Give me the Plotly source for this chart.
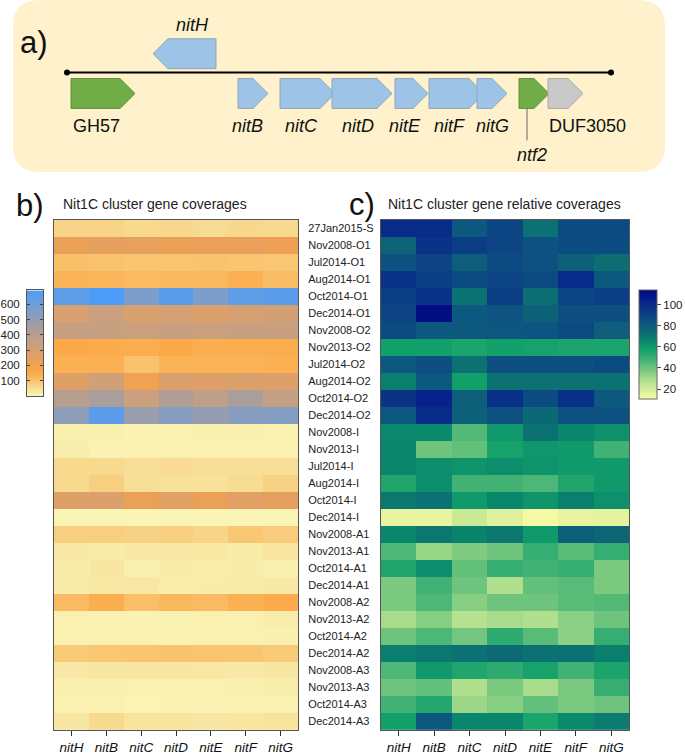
import numpy as np
import plotly.graph_objects as go

W, H = 685, 755
FONT = "Arial, Liberation Sans, Helvetica, sans-serif"

# ---------------- gene cluster (panel a) ----------------
genes = ["GH57", "nitH", "nitB", "nitC", "nitD", "nitE", "nitF", "nitG", "ntf2", "DUF3050"]
gene_start = [71, 153, 238, 280, 332, 395, 429, 477, 519, 548]
gene_end = [135, 216, 268, 335, 392, 428, 484, 507, 549, 583]
gene_strand = [1, -1, 1, 1, 1, 1, 1, 1, 1, 1]
gene_kind = ["green", "blue", "blue", "blue", "blue", "blue", "blue", "blue", "green", "grey"]
locus = [67, 611]

# ---------------- heatmaps (panels b, c) ----------------
genes_hm = ["nitH", "nitB", "nitC", "nitD", "nitE", "nitF", "nitG"]
samples = [
    "27Jan2015-S", "Nov2008-O1", "Jul2014-O1", "Aug2014-O1", "Oct2014-O1", "Dec2014-O1",
    "Nov2008-O2", "Nov2013-O2", "Jul2014-O2", "Aug2014-O2", "Oct2014-O2", "Dec2014-O2",
    "Nov2008-I", "Nov2013-I", "Jul2014-I", "Aug2014-I", "Oct2014-I", "Dec2014-I",
    "Nov2008-A1", "Nov2013-A1", "Oct2014-A1", "Dec2014-A1",
    "Nov2008-A2", "Nov2013-A2", "Oct2014-A2", "Dec2014-A2",
    "Nov2008-A3", "Nov2013-A3", "Oct2014-A3", "Dec2014-A3",
]
coverage = [
    [65, 65, 55, 58, 52, 58, 55],
    [230, 250, 240, 230, 235, 235, 225],
    [105, 100, 95, 95, 100, 95, 90],
    [130, 125, 115, 120, 120, 135, 110],
    [640, 690, 560, 650, 560, 640, 650],
    [290, 340, 290, 300, 280, 300, 310],
    [350, 350, 340, 345, 340, 345, 345],
    [150, 145, 140, 150, 140, 140, 140],
    [135, 135, 100, 130, 130, 130, 135],
    [270, 320, 210, 280, 275, 280, 275],
    [400, 440, 340, 420, 380, 440, 360],
    [510, 650, 480, 530, 490, 530, 540],
    [15, 15, 10, 12, 14, 14, 12],
    [18, 10, 12, 12, 12, 12, 12],
    [55, 55, 45, 50, 45, 45, 45],
    [55, 75, 45, 40, 40, 50, 70],
    [270, 280, 230, 260, 230, 260, 250],
    [5, 5, 5, 5, 5, 5, 5],
    [75, 75, 70, 75, 65, 90, 80],
    [25, 20, 25, 25, 28, 22, 32],
    [22, 30, 15, 20, 18, 22, 14],
    [22, 28, 28, 18, 22, 22, 25],
    [115, 140, 105, 120, 115, 135, 145],
    [12, 12, 10, 10, 12, 12, 18],
    [12, 12, 10, 10, 12, 12, 15],
    [85, 90, 95, 100, 95, 95, 85],
    [25, 30, 30, 30, 28, 25, 30],
    [15, 15, 12, 12, 12, 14, 18],
    [12, 12, 8, 10, 10, 12, 12],
    [30, 55, 35, 35, 30, 32, 38],
]
relative = [
    [100, 100, 82, 90, 72, 88, 88],
    [77, 97, 93, 90, 85, 87, 87],
    [85, 90, 80, 88, 85, 78, 73],
    [97, 92, 88, 90, 88, 100, 82],
    [92, 97, 72, 93, 73, 90, 92],
    [90, 112, 82, 84, 78, 86, 86],
    [88, 82, 82, 83, 84, 88, 80],
    [58, 58, 56, 58, 57, 56, 56],
    [82, 86, 72, 86, 86, 86, 88],
    [68, 82, 58, 72, 72, 72, 72],
    [97, 103, 80, 98, 88, 98, 82],
    [82, 100, 78, 85, 75, 85, 85],
    [65, 65, 45, 60, 72, 66, 63],
    [66, 40, 42, 57, 61, 60, 48],
    [66, 64, 62, 64, 62, 60, 60],
    [55, 64, 48, 48, 46, 55, 60],
    [70, 72, 60, 66, 62, 68, 63],
    [15, 15, 22, 17, 12, 15, 16],
    [66, 70, 67, 70, 60, 78, 76],
    [46, 33, 37, 40, 50, 44, 50],
    [55, 64, 42, 50, 48, 50, 38],
    [38, 48, 40, 28, 42, 44, 38],
    [38, 46, 36, 40, 40, 44, 45],
    [30, 36, 27, 30, 28, 35, 40],
    [40, 46, 39, 52, 44, 35, 50],
    [68, 70, 72, 74, 72, 72, 68],
    [46, 60, 55, 52, 57, 48, 56],
    [40, 42, 28, 38, 30, 38, 50],
    [48, 54, 32, 36, 42, 38, 40],
    [58, 82, 66, 66, 56, 65, 69],
]
cov_ticks = [100, 200, 300, 400, 500, 600]
rel_ticks = [20, 40, 60, 80, 100]
cov_range = [0, 690]
rel_range = [11, 114]

# ---------------- styles ----------------
fill = {"green": "#70AD47", "blue": "#9DC3E6", "grey": "#C9C9C9"}
edge = {"green": "#5E8F3C", "blue": "#8FA7BD", "grey": "#A8A8A8"}

cs_cov = [
    [0.00, "#FBF7BA"], [0.04, "#F8E8A4"], [0.09, "#F8D68A"], [0.15, "#F9C06A"],
    [0.22, "#FCA848"], [0.32, "#EEA054"], [0.42, "#D9A070"], [0.52, "#C4A084"],
    [0.62, "#AE9E96"], [0.74, "#8E9DB8"], [0.88, "#6C9DDC"], [1.00, "#4C9CF8"],
]
rel_stops = [(11, "#FBFBA6"), (20, "#D2EC98"), (30, "#A8DC8C"), (40, "#6EC47C"),
             (50, "#36AE72"), (58, "#12A06A"), (66, "#0A866C"), (74, "#0C6A74"),
             (84, "#0D5480"), (94, "#0B3A86"), (104, "#06208A"), (114, "#00087E")]
cs_rel = [[(v - rel_range[0]) / (rel_range[1] - rel_range[0]), c] for v, c in rel_stops]


def dx(a, b):
    return [a / W, b / W]


def dy(top, bottom):
    return [1 - bottom / H, 1 - top / H]


fig = go.Figure()

# heatmap b
fig.add_trace(go.Heatmap(
    z=coverage, x=genes_hm, y=samples, colorscale=cs_cov,
    zmin=cov_range[0], zmax=cov_range[1], showscale=False,
    xaxis="x", yaxis="y", hoverinfo="skip"))

# heatmap c
fig.add_trace(go.Heatmap(
    z=relative, x=genes_hm, y=samples, colorscale=cs_rel,
    zmin=rel_range[0], zmax=rel_range[1], xaxis="x2", yaxis="y2",
    hoverinfo="skip",
    colorbar=dict(
        x=639 / W, xanchor="left", y=1 - 346 / H, yanchor="middle",
        len=109, lenmode="pixels", thickness=18, thicknessmode="pixels",
        xpad=0, ypad=0, outlinewidth=1, outlinecolor="#666666",
        tickvals=rel_ticks, ticks="outside", ticklen=4, tickcolor="#444444",
        tickfont=dict(family=FONT, size=11.5, color="#222222"))))

# legend gradient for b (left-labelled colour bar)
levels = np.linspace(cov_range[0], cov_range[1], 256)
fig.add_trace(go.Heatmap(
    z=[[v] for v in levels], y=levels, x=[0], colorscale=cs_cov,
    zmin=cov_range[0], zmax=cov_range[1], showscale=False,
    xaxis="x4", yaxis="y4", hoverinfo="skip"))

# gene cluster line and end dots
fig.add_trace(go.Scatter(
    x=locus, y=[73, 73], mode="lines+markers", xaxis="x3", yaxis="y3",
    line=dict(color="black", width=2), marker=dict(color="black", size=6),
    hoverinfo="skip", showlegend=False))

shapes = []
# panel background
x0, x1, y0, y1, r = 13, 665, 0, 173, 27
shapes.append(dict(
    type="path", xref="x3", yref="y3", layer="below",
    path=(f"M{x0+r},{y0} L{x1-r},{y0} Q{x1},{y0} {x1},{y0+r} L{x1},{y1-r} "
          f"Q{x1},{y1} {x1-r},{y1} L{x0+r},{y1} Q{x0},{y1} {x0},{y1-r} "
          f"L{x0},{y0+r} Q{x0},{y0} {x0+r},{y0} Z"),
    fillcolor="#FEF1CB", line=dict(width=0)))

for g, s, e, st, k in zip(genes, gene_start, gene_end, gene_strand, gene_kind):
    head = min(15, (e - s) * 0.55)
    if st > 0:
        top, bot = 79, 109
        mid = (top + bot) / 2
        p = f"M{s},{top} L{e-head},{top} L{e},{mid} L{e-head},{bot} L{s},{bot} Z"
    else:
        top, bot = 39, 69
        mid = (top + bot) / 2
        p = f"M{e},{top} L{s+head},{top} L{s},{mid} L{s+head},{bot} L{e},{bot} Z"
    shapes.append(dict(type="path", xref="x3", yref="y3", path=p,
                       fillcolor=fill[k], line=dict(color=edge[k], width=1)))

# ntf2 leader line
shapes.append(dict(type="line", xref="x3", yref="y3", x0=527, x1=527, y0=109, y1=141,
                   line=dict(color="#666666", width=1)))

annotations = []
# gene labels
label_pos = {
    "GH57": (71, 127, "left", False), "nitH": (192, 25, "center", True),
    "nitB": (247, 127, "center", True), "nitC": (301, 127, "center", True),
    "nitD": (358, 127, "center", True), "nitE": (405, 127, "center", True),
    "nitF": (449, 127, "center", True), "nitG": (492, 127, "center", True),
    "ntf2": (532, 156, "center", True), "DUF3050": (547, 127, "left", False),
}
for g in genes:
    lx, ly, al, it = label_pos[g]
    annotations.append(dict(
        x=lx, y=ly, xref="x3", yref="y3", text=g, showarrow=False,
        xanchor=al, yanchor="middle",
        font=dict(family=FONT, size=18, color="#111111",
                  style="italic" if it else "normal")))

# panel letters and titles
for txt, px, py in [("a)", 34, 43), ("b)", 30, 207), ("c)", 362, 206)]:
    annotations.append(dict(x=px, y=py, xref="x3", yref="y3", text=txt, showarrow=False,
                            xanchor="center", yanchor="middle",
                            font=dict(family=FONT, size=31, color="#111111")))
for txt, px, py in [("Nit1C cluster gene coverages", 61, 205),
                    ("Nit1C cluster gene relative coverages", 386, 205)]:
    annotations.append(dict(x=px, y=py, xref="x3", yref="y3", text=txt, showarrow=False,
                            xanchor="left", yanchor="middle",
                            font=dict(family=FONT, size=14, color="#222222")))

frame = dict(showline=True, mirror=True, linecolor="#555555", linewidth=1)
xtick = dict(ticks="outside", ticklen=5, tickcolor="#333333",
             tickfont=dict(family=FONT, size=13.5, color="#111111", style="italic"))

fig.update_layout(
    width=W, height=H, margin=dict(l=0, r=0, t=0, b=0),
    paper_bgcolor="white", plot_bgcolor="rgba(0,0,0,0)",
    showlegend=False, shapes=shapes, annotations=annotations,
    xaxis=dict(domain=dx(54, 298), anchor="y", **frame, **xtick),
    yaxis=dict(domain=dy(221, 734), anchor="x", autorange="reversed", side="right",
               ticks="", ticklabelstandoff=7,
               tickfont=dict(family=FONT, size=11, color="#222222"), **frame),
    xaxis2=dict(domain=dx(381, 629), anchor="y2", **frame, **xtick),
    yaxis2=dict(domain=dy(221, 734), anchor="x2", autorange="reversed",
                showticklabels=False, ticks="", **frame),
    xaxis3=dict(domain=[0, 1], anchor="y3", range=[0, W], visible=False, fixedrange=True),
    yaxis3=dict(domain=[0, 1], anchor="x3", range=[H, 0], visible=False, fixedrange=True),
    xaxis4=dict(domain=dx(27, 43), anchor="y4", showticklabels=False, ticks="",
                **frame),
    yaxis4=dict(domain=dy(292, 398), anchor="x4", range=cov_range, side="left",
                tickvals=cov_ticks, ticks="inside", ticklen=3, tickcolor="#444444",
                ticklabelstandoff=4,
                tickfont=dict(family=FONT, size=11.5, color="#222222"),
                showline=True, mirror="ticks", linecolor="#555555", linewidth=1),
)

fig.write_html(
    "out.html",
    config={"displayModeBar": False},
    post_script="document.body.style.margin='0';document.body.style.overflow='hidden';",
)
